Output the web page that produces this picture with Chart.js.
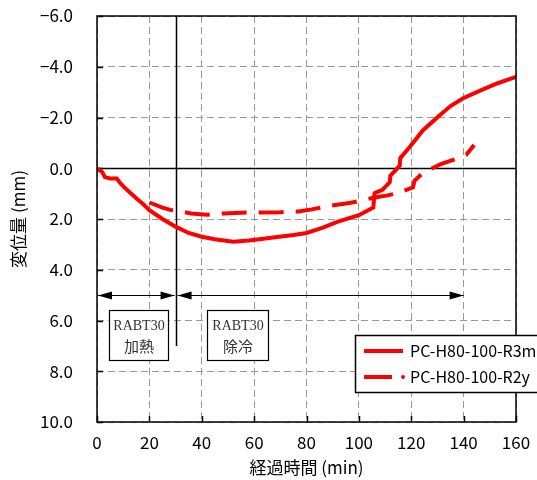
<!DOCTYPE html>
<html>
<head>
<meta charset="utf-8">
<script src="https://cdn.jsdelivr.net/npm/chart.js@4/dist/chart.umd.min.js"></script>
<style>
html, body { margin: 0; padding: 0; background: #fff; }
</style>
</head>
<body>
<canvas id="dispChart" width="537" height="480"></canvas>
<script>
// 経過時間 (min)
const r3mTime = [0, 2, 3, 5, 7.5, 9, 10.7, 13, 15, 18, 20, 25, 30, 35, 40, 45, 52, 58, 62, 68, 75, 80, 86, 92, 100, 105.5, 106, 109, 111.8, 112, 115.6, 115.8, 119.5, 124.5, 131, 135, 139.8, 147.4, 153, 160];
// 変位量 (mm)
const r3mDisp = [0, 0.15, 0.35, 0.4, 0.4, 0.6, 0.78, 1.0, 1.18, 1.45, 1.65, 2.0, 2.3, 2.55, 2.7, 2.8, 2.9, 2.85, 2.8, 2.72, 2.63, 2.55, 2.35, 2.1, 1.85, 1.55, 0.98, 0.85, 0.55, 0.3, -0.1, -0.4, -0.85, -1.5, -2.1, -2.45, -2.76, -3.11, -3.35, -3.6];

const r2yTime = [20, 25, 28, 32, 36, 42, 48, 55, 62, 70, 77, 82, 88, 93, 97, 102, 106, 111, 115.6, 120.7, 121.2, 124.5, 128, 131.5, 136, 141, 142.5, 144];
const r2yDisp = [1.35, 1.55, 1.64, 1.70, 1.78, 1.83, 1.78, 1.75, 1.74, 1.73, 1.70, 1.62, 1.5, 1.42, 1.36, 1.25, 1.15, 1.07, 0.96, 0.75, 0.5, 0.17, 0.0, -0.17, -0.33, -0.53, -0.72, -0.92];

// 目盛
const xTicks = [0, 20, 40, 60, 80, 100, 120, 140, 160];
const yTicks = [-6, -4, -2, 0, 2, 4, 6, 8, 10];

const seriesNames = ['PC-H80-100-R3m', 'PC-H80-100-R2y'];
const phaseLabels = [['RABT30', '加熱'], ['RABT30', '除冷']];

const JP_FONT = '"Noto Sans CJK JP", "Noto Sans", sans-serif';

function toPoints(xs, ys) {
    return xs.map((t, i) => ({ x: t, y: ys[i] }));
}

function strokeLine(ctx, x1, y1, x2, y2) {
    ctx.beginPath();
    ctx.moveTo(x1, y1);
    ctx.lineTo(x2, y2);
    ctx.stroke();
}

function arrowHead(ctx, tipX, tipY, dir) {
    // dir: -1 左向き, 1 右向き
    ctx.beginPath();
    ctx.moveTo(tipX, tipY);
    ctx.lineTo(tipX - dir * 14, tipY - 4);
    ctx.lineTo(tipX - dir * 14, tipY + 4);
    ctx.closePath();
    ctx.fill();
}

// 補助線・矢印・注記・凡例
const decoPlugin = {
    id: 'deco',
    beforeDatasetsDraw(chart) {
        const { ctx, chartArea: a, scales: { x, y } } = chart;
        ctx.save();
        ctx.strokeStyle = '#000';
        ctx.lineWidth = 1.5;

        // 0 線
        const y0 = Math.round(y.getPixelForValue(0)) + 0.5;
        strokeLine(ctx, a.left, y0, a.right, y0);

        // 加熱終了 (30 min)
        const x30 = Math.round(x.getPixelForValue(30)) + 0.5;
        strokeLine(ctx, x30, a.top, x30, y.getPixelForValue(7));

        // 内向きの目盛
        yTicks.forEach(v => {
            const py = Math.round(y.getPixelForValue(v)) + 0.5;
            strokeLine(ctx, a.left, py, a.left + 6, py);
        });
        xTicks.forEach(v => {
            const px = Math.round(x.getPixelForValue(v)) + 0.5;
            strokeLine(ctx, px, a.bottom, px, a.bottom - 6);
        });
        ctx.restore();
    },
    afterDatasetsDraw(chart) {
        const { ctx, chartArea: a, scales: { x, y } } = chart;
        ctx.save();

        // 枠
        ctx.strokeStyle = '#000';
        ctx.lineWidth = 1.5;
        ctx.strokeRect(a.left, a.top, a.right - a.left, a.bottom - a.top);

        // 矢印
        ctx.fillStyle = '#000';
        ctx.lineWidth = 1.2;
        const ay = Math.round(y.getPixelForValue(5)) + 0.5;
        const ax0 = x.getPixelForValue(0) + 1;
        const ax30 = x.getPixelForValue(30);
        const ax140 = x.getPixelForValue(140);
        strokeLine(ctx, ax0, ay, ax30 - 1, ay);
        arrowHead(ctx, ax0, ay, -1);
        arrowHead(ctx, ax30 - 1, ay, 1);
        strokeLine(ctx, ax30 + 2, ay, ax140, ay);
        arrowHead(ctx, ax30 + 2, ay, -1);
        arrowHead(ctx, ax140, ay, 1);

        // 注記の箱
        const boxes = [[4.6, 27], [42, 65.3]];
        boxes.forEach((b, i) => {
            const bx1 = Math.round(x.getPixelForValue(b[0])) + 0.5;
            const bx2 = Math.round(x.getPixelForValue(b[1])) + 0.5;
            const by1 = Math.round(y.getPixelForValue(5.6)) + 0.5;
            const by2 = Math.round(y.getPixelForValue(7.55)) + 0.5;
            ctx.fillStyle = '#fff';
            ctx.fillRect(bx1, by1, bx2 - bx1, by2 - by1);
            ctx.strokeStyle = '#000';
            ctx.lineWidth = 1.2;
            ctx.strokeRect(bx1, by1, bx2 - bx1, by2 - by1);
            ctx.fillStyle = '#333';
            ctx.textAlign = 'center';
            ctx.textBaseline = 'middle';
            const cx = (bx1 + bx2) / 2;
            ctx.font = '14px "Liberation Serif", "DejaVu Serif", serif';
            ctx.fillText(phaseLabels[i][0], cx, by1 + 16);
            ctx.font = '15px ' + JP_FONT;
            ctx.fillText(phaseLabels[i][1], cx, by1 + 36);
        });

        // 凡例
        const lx = 355.5, ly = 335.5;
        ctx.fillStyle = '#fff';
        ctx.fillRect(lx, ly, 200, 57);
        ctx.strokeStyle = '#000';
        ctx.lineWidth = 1.5;
        ctx.strokeRect(lx, ly, 200, 57);

        ctx.strokeStyle = '#ff0000';
        ctx.lineWidth = 4;
        strokeLine(ctx, 364, 351, 403, 351);
        strokeLine(ctx, 364, 377, 392, 377);
        ctx.fillStyle = '#ff0000';
        ctx.beginPath();
        ctx.arc(403, 377, 2, 0, Math.PI * 2);
        ctx.fill();

        ctx.fillStyle = '#000';
        ctx.font = '16px ' + JP_FONT;
        ctx.textAlign = 'left';
        ctx.textBaseline = 'middle';
        ctx.fillText(seriesNames[0], 410, 351);
        ctx.fillText(seriesNames[1], 410, 377);

        ctx.restore();
    }
};

const ctx = document.getElementById('dispChart');

new Chart(ctx, {
    type: 'line',
    data: {
        datasets: [
            {
                label: seriesNames[0],
                data: toPoints(r3mTime, r3mDisp),
                borderColor: '#ff0000',
                borderWidth: 4,
                pointRadius: 0,
                tension: 0
            },
            {
                label: seriesNames[1],
                data: toPoints(r2yTime, r2yDisp),
                borderColor: '#ff0000',
                borderWidth: 4,
                borderDash: [25, 12],
                pointRadius: 0,
                tension: 0
            }
        ]
    },
    options: {
        responsive: false,
        animation: false,
        devicePixelRatio: 1,
        layout: {
            padding: { left: 0, right: 21, top: 16, bottom: 0 }
        },
        plugins: {
            legend: { display: false },
            tooltip: { enabled: false }
        },
        scales: {
            x: {
                type: 'linear',
                min: 0,
                max: 160,
                afterBuildTicks: scale => {
                    scale.ticks = xTicks.map(v => ({ value: v }));
                },
                afterFit: scale => {
                    scale.height = 58;
                    scale.paddingLeft = 0;
                    scale.paddingRight = 0;
                },
                grid: {
                    color: '#999',
                    lineWidth: 1,
                    drawTicks: false
                },
                border: { display: false, dash: [7, 4] },
                ticks: {
                    color: '#000',
                    padding: 10,
                    maxRotation: 0,
                    font: { family: JP_FONT, size: 17 }
                },
                title: {
                    display: true,
                    text: '経過時間 (min)',
                    color: '#000',
                    padding: { top: 0, bottom: 2 },
                    font: { family: JP_FONT, size: 17 }
                }
            },
            y: {
                type: 'linear',
                min: -6,
                max: 10,
                reverse: true,
                afterBuildTicks: scale => {
                    scale.ticks = yTicks.map(v => ({ value: v }));
                },
                afterFit: scale => {
                    scale.width = 97;
                    scale.paddingTop = 0;
                    scale.paddingBottom = 0;
                },
                grid: {
                    color: '#999',
                    lineWidth: 1,
                    drawTicks: false
                },
                border: { display: false, dash: [7, 4] },
                ticks: {
                    color: '#000',
                    padding: 24,
                    font: { family: JP_FONT, size: 17 },
                    callback: v => (v < 0 ? '\u2212' + Math.abs(v).toFixed(1) : v.toFixed(1))
                },
                title: {
                    display: true,
                    text: '変位量 (mm)',
                    color: '#000',
                    padding: { top: 8, bottom: 0 },
                    font: { family: JP_FONT, size: 17 }
                }
            }
        }
    },
    plugins: [decoPlugin]
});
</script>
</body>
</html>
